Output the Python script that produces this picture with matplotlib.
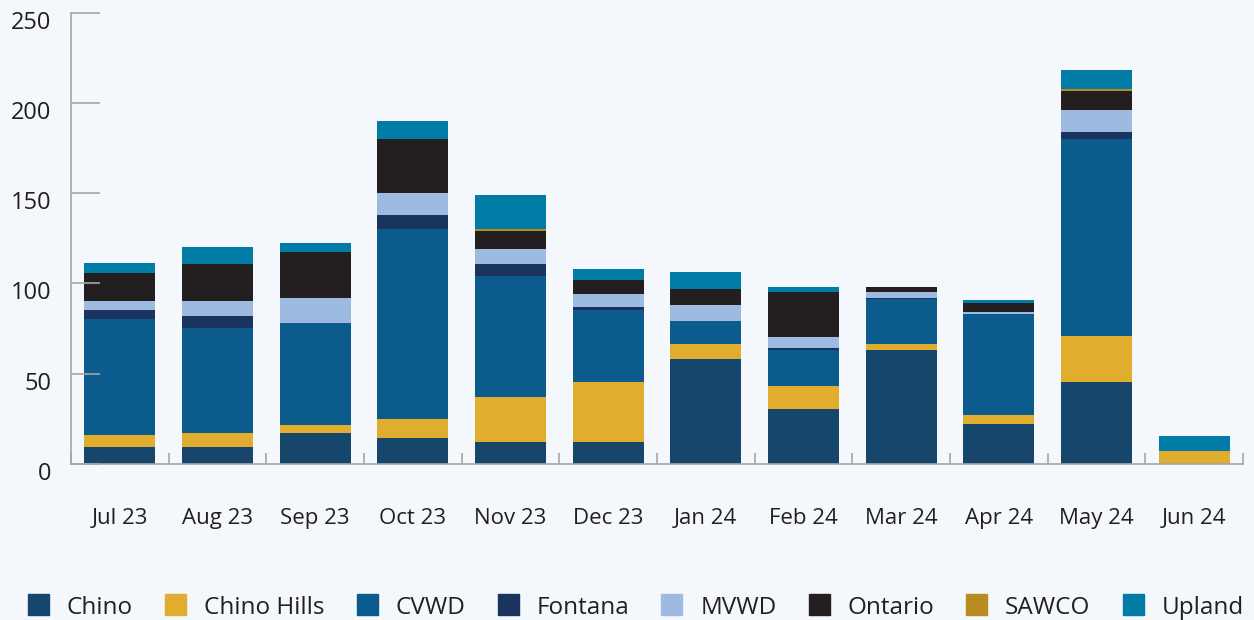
import matplotlib
matplotlib.use("Agg")
from matplotlib import pyplot as plt
from matplotlib.patches import Rectangle
from matplotlib.transforms import ScaledTranslation
import numpy as np

months = ["Jul 23", "Aug 23", "Sep 23", "Oct 23", "Nov 23", "Dec 23",
          "Jan 24", "Feb 24", "Mar 24", "Apr 24", "May 24", "Jun 24"]

chino = [9.1, 9.1, 16.9, 14.1, 11.9, 11.9, 58.0, 30.2, 63.0, 21.9, 45.2, 0]
chino_hills = [6.7, 7.8, 4.4, 10.5, 25.0, 33.3, 8.3, 12.8, 3.3, 5.0, 25.5, 6.9]
cvwd = [64.5, 58.3, 56.7, 105.6, 67.2, 40.0, 12.8, 20.0, 25.0, 56.1, 109.5, 0]
fontana = [5.0, 6.7, 0, 7.8, 6.6, 1.7, 0, 1.1, 0.6, 0, 3.9, 0]
mvwd = [5.0, 8.3, 13.9, 12.2, 8.4, 7.2, 8.9, 6.1, 3.3, 1.1, 12.2, 0]
ontario = [15.6, 20.5, 25.5, 30.0, 10.0, 7.8, 8.9, 25.0, 2.8, 5.0, 10.6, 0]
sawco = [0, 0, 0, 0, 1.1, 0, 0, 0, 0, 0, 1.1, 0]
upland = [5.6, 9.5, 5.0, 10.0, 18.9, 6.1, 9.4, 2.8, 0, 1.6, 10.5, 8.3]

series = [
    ("Chino", chino, "#16466b"),
    ("Chino Hills", chino_hills, "#e0ad2f"),
    ("CVWD", cvwd, "#0c5b8d"),
    ("Fontana", fontana, "#1b335f"),
    ("MVWD", mvwd, "#9dbbe1"),
    ("Ontario", ontario, "#231f20"),
    ("SAWCO", sawco, "#b68d1e"),
    ("Upland", upland, "#007ca6"),
]

bg = "#f4f8fd"
axis_grey = "#a3a6a9"
text_col = "#231f20"
plt.rcParams["font.family"] = ["Open Sans", "DejaVu Sans"]

fig = plt.figure(figsize=(12.54, 6.20), dpi=100, facecolor=bg)
ax = fig.add_axes([71 / 1254, 1 - 463.7 / 620, (1243 - 71) / 1254, (463.7 - 13) / 620])
ax.set_facecolor(bg)

x = np.arange(len(months))
bottom = np.zeros(len(months))
for name, vals, color in series:
    vals = np.array(vals, dtype=float)
    ax.bar(x, vals, width=0.727, bottom=bottom, color=color, label=name, linewidth=0)
    bottom += vals

ax.set_xlim(-0.5, len(months) - 0.5)
ax.set_ylim(0, 250)

for side in ("top", "right"):
    ax.spines[side].set_visible(False)
for side in ("left", "bottom"):
    ax.spines[side].set_color(axis_grey)
    ax.spines[side].set_linewidth(1.2)

# y axis: inward ticks, labels slightly below the tick
ax.set_yticks([0, 50, 100, 150, 200, 250])
ax.tick_params(axis="y", direction="in", length=21, width=1.2, color=axis_grey,
               labelsize=17, labelcolor=text_col, pad=14)
offset = ScaledTranslation(0, -0.07, fig.dpi_scale_trans)
for lab in ax.get_yticklabels():
    lab.set_transform(lab.get_transform() + offset)

# x axis: tick marks at category boundaries, labels at centres
ax.set_xticks(np.arange(-0.5, len(months)), minor=False)
ax.set_xticklabels([])
ax.tick_params(axis="x", which="major", direction="in", length=8, width=1.2, color=axis_grey)
ax.set_xticks(x, minor=True)
ax.set_xticklabels(months, minor=True)
ax.tick_params(axis="x", which="minor", length=0, labelsize=16, labelcolor=text_col, pad=32)

# legend drawn across the bottom
fig.canvas.draw()
renderer = fig.canvas.get_renderer()
W, H = fig.bbox.width, fig.bbox.height
xpos = 28
yc = 604.5
for name, vals, color in series:
    fig.patches.append(Rectangle((xpos / W, 1 - (yc + 10.5) / H), 21 / W, 21 / H,
                                 transform=fig.transFigure, color=color, figure=fig))
    t = fig.text((xpos + 39) / W, 1 - yc / H, name, fontsize=17.5, color=text_col,
                 va="center_baseline", ha="left")
    tw = t.get_window_extent(renderer).width
    xpos += 39 + tw + 32

fig.savefig("out.png", dpi=100, facecolor=bg)
